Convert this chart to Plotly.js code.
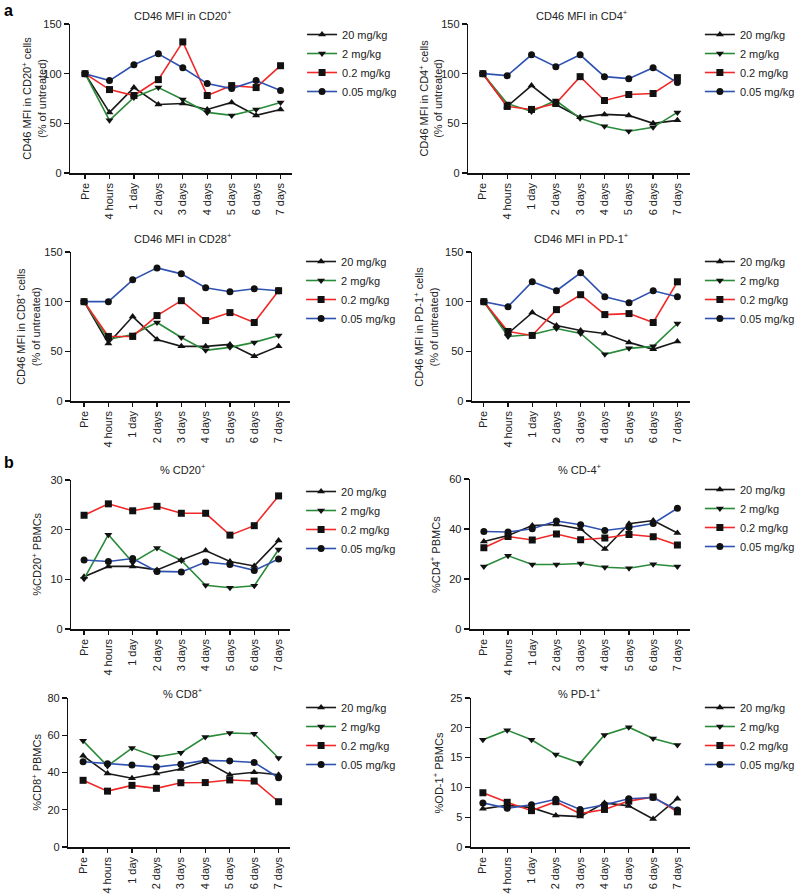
<!DOCTYPE html>
<html>
<head>
<meta charset="utf-8">
<script src="https://cdn.plot.ly/plotly-3.0.1.min.js"></script>
<style>html,body{margin:0;padding:0;background:#fff;}#chart{width:800px;height:896px;}</style>
</head>
<body>
<div id="chart"></div>
<script>
// ---------- data ----------
const timepoints = ['Pre','4 hours','1 day','2 days','3 days','4 days','5 days','6 days','7 days'];
const doses = ['20 mg/kg','2 mg/kg','0.2 mg/kg','0.05 mg/kg'];

// panel a: CD46 MFI (% of untreated); rows = 20, 2, 0.2, 0.05 mg/kg
const mfiCD20 = [
  [100, 61, 86, 69, 70, 64, 71, 58, 64],
  [100, 53, 76, 86, 74, 61, 58, 64, 71],
  [100, 84, 78, 94, 132, 78, 88, 86, 108],
  [100, 93, 109, 120, 106, 90, 85, 93, 83]
];
const mfiCD4 = [
  [100, 67, 88, 69, 56, 59, 58, 50, 53],
  [100, 70, 62, 73, 55, 47, 42, 46, 61],
  [100, 67, 64, 70, 97, 73, 79, 80, 96],
  [100, 98, 119, 107, 119, 97, 95, 106, 91]
];
const mfiCD28 = [
  [100, 58, 85, 62, 55, 55, 57, 45, 55],
  [100, 62, 67, 79, 64, 51, 54, 59, 66],
  [100, 65, 65, 86, 101, 81, 89, 79, 111],
  [100, 100, 122, 134, 128, 114, 110, 113, 111]
];
const mfiPD1 = [
  [100, 68, 89, 76, 71, 68, 59, 52, 60],
  [100, 65, 67, 73, 68, 47, 53, 55, 78],
  [100, 70, 66, 92, 107, 87, 88, 79, 120],
  [100, 95, 120, 111, 129, 105, 99, 111, 105]
];
// panel b: % of PBMCs
const pctCD20 = [
  [10.5, 12.6, 12.6, 11.9, 13.9, 15.8, 13.6, 12.7, 17.8],
  [10.1, 19.0, 13.4, 16.3, 13.8, 8.8, 8.3, 8.7, 16.0],
  [22.9, 25.2, 23.8, 24.7, 23.3, 23.3, 18.9, 20.8, 26.8],
  [13.9, 13.6, 14.2, 11.6, 11.5, 13.5, 13.0, 11.8, 14.1]
];
const pctCD4 = [
  [35.0, 37.4, 41.4, 41.8, 40.0, 32.0, 42.1, 43.4, 38.4],
  [25.0, 29.3, 25.8, 25.8, 26.2, 24.7, 24.3, 25.9, 25.0],
  [32.5, 37.0, 35.6, 38.0, 35.7, 36.4, 37.8, 36.9, 33.6],
  [39.0, 38.8, 40.1, 43.2, 41.7, 39.4, 40.6, 42.2, 48.3]
];
const pctCD8 = [
  [49.0, 39.4, 36.9, 39.5, 41.9, 46.0, 38.8, 40.1, 38.8],
  [57.0, 43.5, 53.1, 48.3, 50.6, 59.0, 61.2, 60.8, 47.8],
  [35.8, 30.0, 33.1, 31.5, 34.5, 34.6, 36.0, 35.4, 24.3],
  [45.8, 44.7, 44.0, 42.9, 44.4, 46.5, 46.2, 45.4, 37.2]
];
const pctPD1 = [
  [6.4, 7.0, 6.6, 5.3, 5.1, 7.4, 6.9, 4.7, 8.1],
  [18.0, 19.6, 18.0, 15.5, 14.1, 18.8, 20.1, 18.2, 17.1],
  [9.1, 7.5, 6.1, 7.6, 5.6, 6.3, 7.7, 8.4, 5.9],
  [7.4, 6.5, 7.1, 8.0, 6.3, 7.1, 8.1, 8.3, 6.2]
];

const panelTitles = ['CD46 MFI in CD20<sup>+</sup>','CD46 MFI in CD4<sup>+</sup>','CD46 MFI in CD28<sup>+</sup>','CD46 MFI in PD-1<sup>+</sup>',
  '% CD20<sup>+</sup>','% CD-4<sup>+</sup>','% CD8<sup>+</sup>','% PD-1<sup>+</sup>'];
const yTitles = ['CD46 MFI in CD20<sup>+</sup> cells<br>(% of untreated)','CD46 MFI in CD4<sup>+</sup> cells<br>(% of untreated)',
  'CD46 MFI in CD8<sup>+</sup> cells<br>(% of untreated)','CD46 MFI in PD-1<sup>+</sup> cells<br>(% of untreated)',
  '%CD20<sup>+</sup> PBMCs','%CD4<sup>+</sup> PBMCs','%CD8<sup>+</sup> PBMCs','%OD-1<sup>+</sup> PBMCs'];
const yMax = [150,150,150,150,30,60,80,25];
const yStep = [50,50,50,50,10,20,20,5];
const panelData = [mfiCD20, mfiCD4, mfiCD28, mfiPD1, pctCD20, pctCD4, pctCD8, pctPD1];

// ---------- styling / geometry (pixels) ----------
const W = 800, H = 896;
const geom = [
  {L:72, R:299, p0:87, p8:287, yb:173, yt:24, tx:187, ty:15, ytx:35, lx:309, ly:20},
  {L:479,R:706, p0:494,p8:693, yb:173, yt:24, tx:595, ty:15, ytx:441, lx:716, ly:20},
  {L:73, R:297, p0:86, p8:285, yb:401, yt:252,tx:187, ty:238,ytx:28, lx:308, ly:247},
  {L:483,R:706, p0:495,p8:693, yb:401, yt:252,tx:595, ty:238,ytx:435, lx:716, ly:247},
  {L:73, R:297, p0:86, p8:285, yb:629, yt:480,tx:187, ty:469,ytx:37, lx:308, ly:477},
  {L:481,R:706, p0:495,p8:693, yb:629, yt:479,tx:593, ty:469,ytx:445, lx:716, ly:475},
  {L:70, R:297, p0:85, p8:285, yb:847, yt:698,tx:187, ty:693,ytx:37, lx:308, ly:693},
  {L:482,R:706, p0:494,p8:693, yb:847, yt:698,tx:593, ty:693,ytx:448, lx:716, ly:693}
];
const lineColors = ['#1a1a1a','#2a8a3a','#f02828','#2f52b0'];
const symbols = ['triangle-up','triangle-down','square','circle'];
const msize = [7,7,7,7];
const FONT = 'Liberation Sans, Arial, Helvetica, sans-serif';
const TXT = '#222';

const traces = [];
const layout = {
  width: W, height: H,
  margin: {l:0, r:0, t:0, b:0},
  paper_bgcolor: '#fff', plot_bgcolor: '#fff',
  font: {family: FONT, size: 11, color: TXT},
  annotations: [], showlegend: true
};

panelData.forEach((series, p) => {
  const g = geom[p];
  const n = p + 1;
  const xa = n === 1 ? 'xaxis' : 'xaxis' + n;
  const ya = n === 1 ? 'yaxis' : 'yaxis' + n;
  const lg = n === 1 ? 'legend' : 'legend' + n;
  const s = (g.p8 - g.p0) / 8;
  layout[xa] = {
    domain: [g.L / W, g.R / W],
    anchor: 'y' + (n === 1 ? '' : n),
    type: 'category',
    range: [-(g.p0 - g.L) / s, 8 + (g.R - g.p8) / s],
    showline: true, linecolor: '#111', linewidth: 1.5,
    ticks: 'outside', ticklen: 4, tickwidth: 1.2, tickcolor: '#111',
    tickangle: -90, tickfont: {size: 11, color: TXT, family: FONT},
    showgrid: false, zeroline: false, fixedrange: true
  };
  layout[ya] = {
    domain: [(H - g.yb) / H, (H - g.yt) / H],
    anchor: 'x' + (n === 1 ? '' : n),
    range: [0, yMax[p]], dtick: yStep[p], tick0: 0,
    showline: true, linecolor: '#111', linewidth: 1.5,
    ticks: 'outside', ticklen: 5, tickwidth: 1.2, tickcolor: '#111',
    tickfont: {size: 11, color: TXT, family: FONT},
    showgrid: false, zeroline: false, fixedrange: true
  };
  layout[lg] = {
    x: g.lx / W, y: (H - g.ly) / H, xanchor: 'left', yanchor: 'top',
    xref: 'paper', yref: 'paper',
    bgcolor: 'rgba(0,0,0,0)', borderwidth: 0,
    font: {size: 11, color: TXT, family: FONT},
    itemclick: false, itemdoubleclick: false, tracegroupgap: 0
  };
  series.forEach((vals, k) => {
    traces.push({
      type: 'scatter', mode: 'lines+markers',
      x: timepoints, y: vals, name: doses[k],
      xaxis: 'x' + (n === 1 ? '' : n), yaxis: 'y' + (n === 1 ? '' : n),
      legend: lg,
      line: {color: lineColors[k], width: 1.6},
      marker: {symbol: symbols[k], size: msize[k], color: '#111'},
      cliponaxis: false,
      hoverinfo: 'skip'
    });
  });
  layout.annotations.push({
    text: panelTitles[p], xref: 'paper', yref: 'paper',
    x: g.tx / W, y: (H - g.ty) / H, xanchor: 'center', yanchor: 'middle',
    showarrow: false, font: {size: 11, color: TXT, family: FONT}
  });
  layout.annotations.push({
    text: yTitles[p], xref: 'paper', yref: 'paper',
    x: g.ytx / W, y: (H - (g.yb + g.yt) / 2) / H, xanchor: 'center', yanchor: 'middle',
    textangle: -90, showarrow: false, font: {size: 11, color: TXT, family: FONT}
  });
});

layout.annotations.push({text: '<b>a</b>', xref: 'paper', yref: 'paper', x: 2 / W, y: (H - 0) / H,
  xanchor: 'left', yanchor: 'top', showarrow: false, font: {size: 16, color: '#000', family: FONT}});
layout.annotations.push({text: '<b>b</b>', xref: 'paper', yref: 'paper', x: 2 / W, y: (H - 452) / H,
  xanchor: 'left', yanchor: 'top', showarrow: false, font: {size: 16, color: '#000', family: FONT}});

Plotly.newPlot('chart', traces, layout, {staticPlot: true, displayModeBar: false});
</script>
</body>
</html>
